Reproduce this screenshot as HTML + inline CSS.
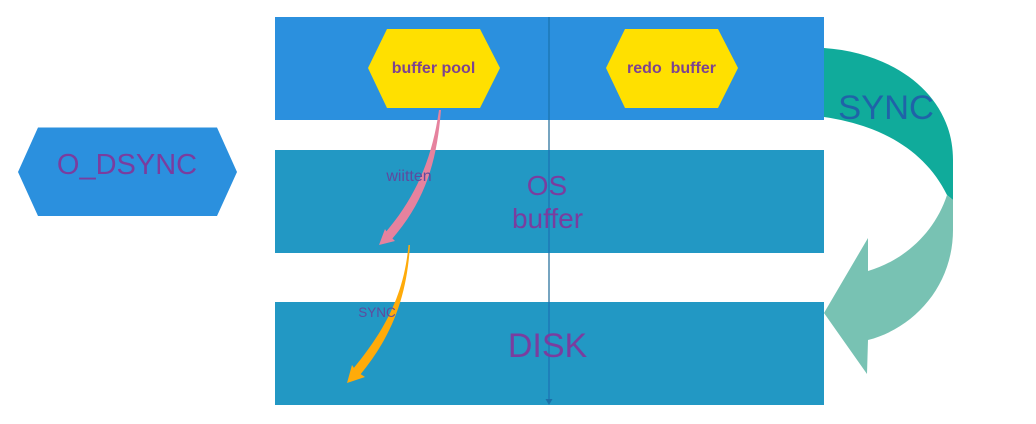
<!DOCTYPE html>
<html>
<head>
<meta charset="utf-8">
<style>
html,body{margin:0;padding:0;background:#fff;width:1036px;height:424px;overflow:hidden}
svg{display:block}
text{font-family:"Liberation Sans",sans-serif;fill:#7a3d9f;text-anchor:middle}
</style>
</head>
<body>
<svg width="1036" height="424" viewBox="0 0 1036 424" xmlns="http://www.w3.org/2000/svg">
<rect x="275" y="17" width="549" height="103" fill="#2b90de"/>
<rect x="275" y="150" width="549" height="103" fill="#2298c4"/>
<rect x="275" y="302" width="549" height="103" fill="#2298c4"/>

<polygon points="18,172 38,127.500 217,127.500 237,172 217,216 38,216" fill="#2b90de"/>
<polygon points="368,68 387,29 480,29 500,68 480,108 387,108" fill="#ffe000"/>
<polygon points="606,68 625,29 718,29 738,68 718,108 625,108" fill="#ffe000"/>

<path d="M824,48 C895,53 953,95 953,160 L953,200 L947,195 C925,150 880,125 824,117 Z" fill="#10ab9b"/>
<path d="M947,195 L953,200 L953,230 C953,285 915,328 868,340 L867,374 L824,313 L868,238 L868,271 C905,260 935,232 947,195 Z" fill="#78c2b3"/>

<line x1="549" y1="17" x2="549" y2="402" stroke="#1c78b6" stroke-width="1.500"/>
<line x1="549" y1="120" x2="549" y2="150" stroke="#6f9cb8" stroke-width="1.500"/>
<line x1="549" y1="253" x2="549" y2="302" stroke="#6f9cb8" stroke-width="1.500"/>
<polygon points="545.500,399 552.500,399 549,405" fill="#1c6fa8"/>

<path d="M441,110 C437,160 426,200 392,239 L385,233 C415,198 432,160 439,110 Z" fill="#e6829e"/>
<polygon points="379,245 385,229 388,234 395,241" fill="#e6829e"/>

<path d="M410,245 C407,295 393,335 360,375 L353,369 C385,330 404,295 408.500,245 Z" fill="#ffab0a"/>
<polygon points="347,383 352,365 356,371 365,377" fill="#ffab0a"/>

<text x="127" y="174" font-size="29">O_DSYNC</text>
<text x="433.500" y="73" font-size="16" font-weight="bold" style="fill:#7d4390">buffer pool</text>
<text x="671.500" y="73" font-size="16" font-weight="bold" xml:space="preserve" style="fill:#7d4390">redo  buffer</text>
<text x="547" y="195" font-size="28">OS</text>
<text x="547.500" y="228" font-size="28">buffer</text>
<text x="547.500" y="357" font-size="34">DISK</text>
<text x="409" y="181" font-size="16" style="fill:#5f4a9e">wiitten</text>
<text x="377" y="317" font-size="13.500" style="fill:#5f4a9e">SYNC</text>
<text x="886" y="119" font-size="34.500" style="fill:#1f63a8">SYNC</text>
</svg>
</body>
</html>
